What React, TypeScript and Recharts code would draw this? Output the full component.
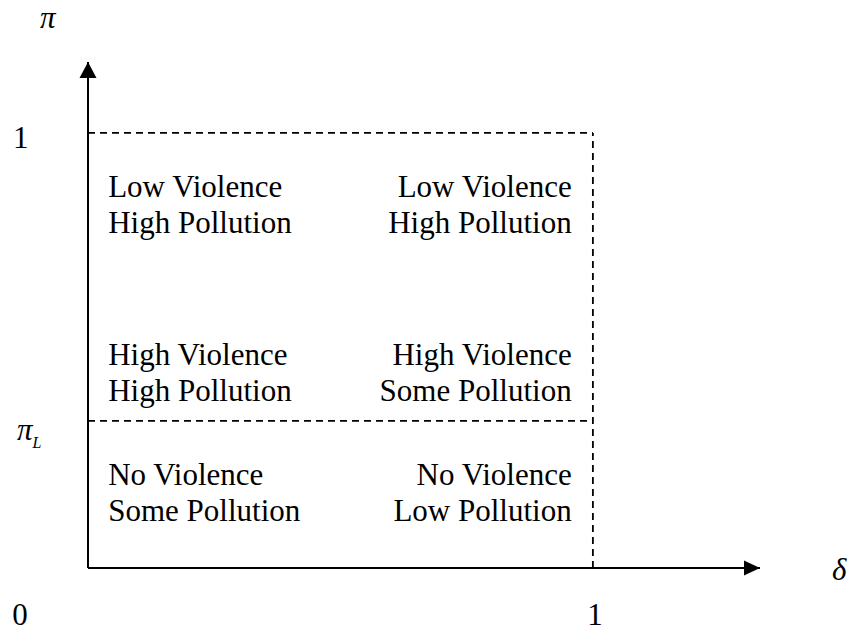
import React from "react";
import { ScatterChart, XAxis, YAxis, Scatter, ReferenceLine } from "recharts";

// domain in (delta, pi) units; the axes run a bit past 1 to hold the arrows
const X_MAX = 1.331;
const Y_MAX = 1.163;
const PI_L = 0.338;

const xTicks = [0, 1];
const yTicks = [PI_L, 1];

// region texts, top row to bottom row
const leftLabels = [
  ["Low Violence", "High Pollution"],
  ["High Violence", "High Pollution"],
  ["No Violence", "Some Pollution"],
];
const rightLabels = [
  ["Low Violence", "High Pollution"],
  ["High Violence", "Some Pollution"],
  ["No Violence", "Low Pollution"],
];
const rowY = [0.853, 0.467, 0.191];
const LEFT_X = 0.04;
const RIGHT_X = 0.958;

const FONT = "'Times New Roman', 'Liberation Serif', serif";
const FS = 31;
const LINE_GAP = 36;

const labelData = [
  ...leftLabels.map((lines, i) => ({ x: LEFT_X, y: rowY[i], lines, anchor: "start" })),
  ...rightLabels.map((lines, i) => ({ x: RIGHT_X, y: rowY[i], lines, anchor: "end" })),
];

const arrowData = [
  { x: X_MAX, y: 0, dir: "right" },
  { x: 0, y: Y_MAX, dir: "up" },
];

const axisNames = [
  { x: 0, y: Y_MAX, name: "π", dx: -48, dy: -34 },
  { x: X_MAX, y: 0, name: "δ", dx: 72, dy: 12 },
];

function RegionText(props: any) {
  const { cx, cy, payload } = props;
  return (
    <text fontFamily={FONT} fontSize={FS} fill="#000" textAnchor={payload.anchor}>
      {payload.lines.map((l: string, i: number) => (
        <tspan key={i} x={cx} y={cy + i * LINE_GAP}>{l}</tspan>
      ))}
    </text>
  );
}

function Arrow(props: any) {
  const { cx, cy, payload } = props;
  const pts = payload.dir === "up"
    ? `${cx},${cy} ${cx - 8.5},${cy + 16} ${cx + 8.5},${cy + 16}`
    : `${cx},${cy} ${cx - 16},${cy - 7.5} ${cx - 16},${cy + 7.5}`;
  return <polygon points={pts} fill="#000" />;
}

function AxisName(props: any) {
  const { cx, cy, payload } = props;
  return (
    <text x={cx + payload.dx} y={cy + payload.dy} fontFamily={FONT} fontSize={FS} fontStyle="italic" fill="#000">
      {payload.name}
    </text>
  );
}

function XTick(props: any) {
  const { x, y, payload } = props;
  const dx = payload.value === 0 ? -68 : 2;
  return (
    <text x={x + dx} y={y + 57} textAnchor="middle" fontFamily={FONT} fontSize={FS} fill="#000">
      {payload.value}
    </text>
  );
}

function YTick(props: any) {
  const { y, payload } = props;
  if (payload.value === 1) {
    return <text x={13} y={y + 15} fontFamily={FONT} fontSize={FS} fill="#000">1</text>;
  }
  return (
    <text x={17} y={y + 19} fontFamily={FONT} fontSize={FS} fontStyle="italic" fill="#000">
      π<tspan fontSize={16} dy={8}>L</tspan>
    </text>
  );
}

export default function App() {
  return (
    <div style={{ position: "fixed", left: 0, top: 0, width: 853, height: 633, background: "#fff" }}>
      <ScatterChart width={853} height={633} margin={{ top: 62, right: 93, bottom: 0, left: 0 }}>
        <XAxis
          type="number"
          dataKey="x"
          domain={[0, X_MAX]}
          ticks={xTicks}
          height={65}
          tickSize={0}
          tickMargin={0}
          tick={<XTick />}
          axisLine={{ stroke: "#000", strokeWidth: 2 }}
        />
        <YAxis
          type="number"
          dataKey="y"
          domain={[0, Y_MAX]}
          ticks={yTicks}
          width={88}
          tickSize={0}
          tickMargin={0}
          tick={<YTick />}
          axisLine={{ stroke: "#000", strokeWidth: 2 }}
        />
        <ReferenceLine segment={[{ x: 0, y: 1 }, { x: 1, y: 1 }]} stroke="#000" strokeWidth={1.8} strokeDasharray="7 5" />
        <ReferenceLine segment={[{ x: 1, y: 0 }, { x: 1, y: 1 }]} stroke="#000" strokeWidth={1.8} strokeDasharray="7 5" />
        <ReferenceLine segment={[{ x: 0, y: PI_L }, { x: 1, y: PI_L }]} stroke="#000" strokeWidth={1.8} strokeDasharray="7 5" />
        <Scatter data={labelData} shape={<RegionText />} isAnimationActive={false} />
        <Scatter data={arrowData} shape={<Arrow />} isAnimationActive={false} />
        <Scatter data={axisNames} shape={<AxisName />} isAnimationActive={false} />
      </ScatterChart>
    </div>
  );
}
